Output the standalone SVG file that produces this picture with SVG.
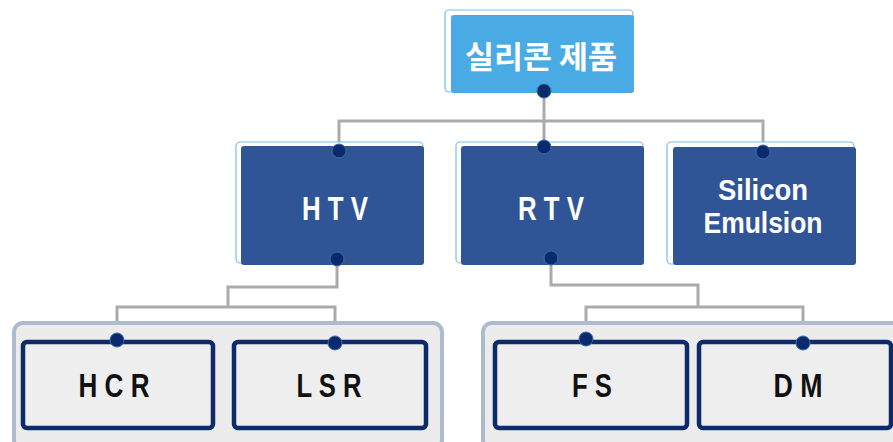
<svg xmlns="http://www.w3.org/2000/svg" width="893" height="442" viewBox="0 0 893 442">
<defs>
<style>
.outline{fill:#ffffff;stroke:#7DBBEA;stroke-width:1.2}
.top{fill:#4AABE4}
.mid{fill:#2F5597}
.grp{fill:#ECECEC;stroke:#ACBBD2;stroke-width:4}
.leaf{fill:#EEEEEE;stroke:#0D2A6B;stroke-width:4.5}
.dot{fill:#0B2A6E;stroke:#3D6CA8;stroke-width:1}
.wire{fill:none;stroke:#ABABAB;stroke-width:3}
.wt{fill:#ffffff;font-family:"Liberation Sans",Arial,sans-serif;font-weight:bold;text-anchor:middle}
.bt{fill:#111111;font-family:"Liberation Sans",Arial,sans-serif;font-weight:bold;text-anchor:middle}
.kr{fill:#ffffff;font-family:"Noto Sans CJK KR","Noto Sans",sans-serif;font-weight:bold;text-anchor:middle}
</style>
</defs>
<g id="connectors">
<polyline class="wire" points="544,91 544,121"/>
<polyline class="wire" points="339,151 339,121 763,121 763,152"/>
<polyline class="wire" points="544,121 544,147"/>
<polyline class="wire" points="337,259 337,287 228,287 228,307"/>
<polyline class="wire" points="117,340 117,307 335,307 335,343"/>
<polyline class="wire" points="551,258 551,285 698,285 698,307"/>
<polyline class="wire" points="586,339 586,307 803,307 803,343"/>
</g>
<g id="root">
<rect class="outline" x="445" y="10" width="188" height="82" rx="4"/>
<rect class="top" x="451" y="15" width="183" height="78" rx="3"/>
<text class="kr" x="541" y="68" font-size="31" textLength="152" lengthAdjust="spacingAndGlyphs">실리콘 제품</text>
</g>
<g id="htv">
<rect class="outline" x="236" y="142" width="187" height="121" rx="4"/>
<rect class="mid" x="241" y="146" width="183" height="119" rx="3"/>
<text class="wt" x="335" y="220" font-size="33" textLength="66" lengthAdjust="spacingAndGlyphs">H T V</text>
</g>
<g id="rtv">
<rect class="outline" x="456" y="142" width="187" height="121" rx="4"/>
<rect class="mid" x="461" y="146" width="183" height="119" rx="3"/>
<text class="wt" x="551" y="220" font-size="33" textLength="66" lengthAdjust="spacingAndGlyphs">R T V</text>
</g>
<g id="silicon-emulsion">
<rect class="outline" x="667" y="142" width="187" height="122" rx="4"/>
<rect class="mid" x="673" y="147" width="183" height="118" rx="3"/>
<text class="wt" x="763" y="200" font-size="30" textLength="90" lengthAdjust="spacingAndGlyphs">Silicon</text>
<text class="wt" x="763" y="233" font-size="30" textLength="119" lengthAdjust="spacingAndGlyphs">Emulsion</text>
</g>
<g id="group-htv">
<rect class="grp" x="14" y="323" width="428" height="126" rx="9"/>
</g>
<g id="group-rtv">
<rect class="grp" x="483" y="323" width="420" height="126" rx="9"/>
</g>
<g id="hcr">
<rect class="leaf" x="23" y="342" width="190" height="86" rx="4"/>
<text class="bt" x="114" y="397" font-size="34" textLength="71" lengthAdjust="spacingAndGlyphs">H C R</text>
</g>
<g id="lsr">
<rect class="leaf" x="234" y="342" width="192" height="86" rx="4"/>
<text class="bt" x="329" y="397" font-size="34" textLength="65" lengthAdjust="spacingAndGlyphs">L S R</text>
</g>
<g id="fs">
<rect class="leaf" x="495" y="342" width="192" height="86" rx="4"/>
<text class="bt" x="592" y="397" font-size="34" textLength="40" lengthAdjust="spacingAndGlyphs">F S</text>
</g>
<g id="dm">
<rect class="leaf" x="699" y="342" width="192" height="86" rx="4"/>
<text class="bt" x="798" y="397" font-size="34" textLength="49" lengthAdjust="spacingAndGlyphs">D M</text>
</g>
<g id="dots">
<circle class="dot" cx="544" cy="91" r="7"/>
<circle class="dot" cx="339" cy="151" r="7"/>
<circle class="dot" cx="544" cy="147" r="7"/>
<circle class="dot" cx="763" cy="152" r="7"/>
<circle class="dot" cx="337" cy="259" r="7"/>
<circle class="dot" cx="551" cy="258" r="7"/>
<circle class="dot" cx="117" cy="340" r="7"/>
<circle class="dot" cx="335" cy="343" r="7"/>
<circle class="dot" cx="586" cy="339" r="7"/>
<circle class="dot" cx="803" cy="343" r="7"/>
</g>
</svg>
